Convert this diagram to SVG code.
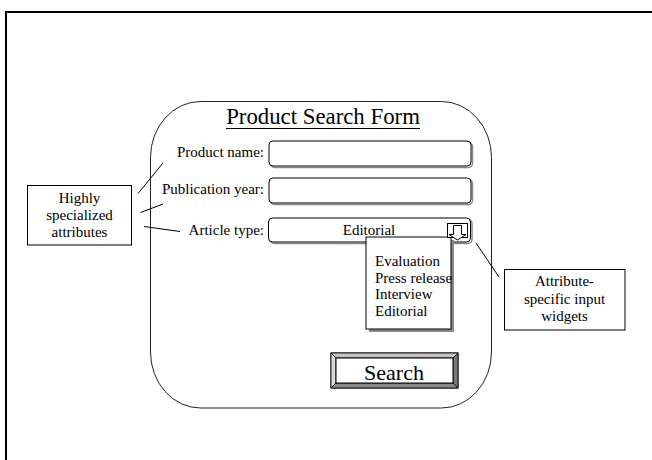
<svg xmlns="http://www.w3.org/2000/svg" width="652" height="460" viewBox="0 0 652 460">
  <defs>
    <style>
      .t { font-family: "Liberation Serif", "Times New Roman", serif; fill: #000; }
      .lbl { font-size: 15px; text-anchor: end; }
      .note { font-size: 15px; text-anchor: middle; }
      .item { font-size: 15px; }
      .box { fill: #fff; stroke: #000; stroke-width: 1; }
      .field { fill: #fff; stroke: #000; stroke-width: 1; }
      .fshadow { fill: none; stroke: #888; stroke-width: 1.5; }
      .conn { stroke: #000; stroke-width: 1; fill: none; }
    </style>
  </defs>
  <rect width="652" height="460" fill="#fff"/>

  <!-- page frame, open to the right and bottom -->
  <path d="M6,470 L6,12 L660,12" fill="none" stroke="#000" stroke-width="2"/>

  <!-- form panel -->
  <g id="form">
    <rect x="150.5" y="101.5" width="341" height="306.5" rx="50" ry="56" fill="#fff" stroke="#222" stroke-width="1"/>
    <text class="t" x="323" y="124" font-size="22.8" text-anchor="middle">Product Search Form</text>
    <line x1="226" y1="128.5" x2="420" y2="128.5" stroke="#000" stroke-width="1"/>
  </g>

  <!-- product name field -->
  <g id="field-name">
    <text class="t lbl" x="264" y="157">Product name:</text>
    <rect class="fshadow" x="270.5" y="142.5" width="202" height="25" rx="4"/>
    <rect class="field" x="269" y="141" width="202" height="25" rx="4"/>
  </g>

  <!-- publication year field -->
  <g id="field-year">
    <text class="t lbl" x="264" y="194">Publication year:</text>
    <rect class="fshadow" x="270.5" y="179.5" width="202" height="25" rx="4"/>
    <rect class="field" x="269" y="178" width="202" height="25" rx="4"/>
  </g>

  <!-- article type dropdown -->
  <g id="field-type">
    <text class="t lbl" x="264" y="235">Article type:</text>
    <rect class="fshadow" x="270" y="219.5" width="202" height="24" rx="4"/>
    <rect class="field" x="268.5" y="218" width="202" height="24" rx="4"/>
    <text class="t" x="369" y="235" font-size="15" text-anchor="middle">Editorial</text>
  </g>

  <!-- open option list -->
  <g id="option-list">
    <rect x="369" y="240" width="85" height="92" fill="#888"/>
    <rect class="box" x="366" y="237" width="85" height="92"/>
    <text class="t item" x="375" y="266">Evaluation</text>
    <text class="t item" x="375" y="282.5">Press release</text>
    <text class="t item" x="375" y="299">Interview</text>
    <text class="t item" x="375" y="315.5">Editorial</text>
  </g>

  <!-- dropdown arrow button -->
  <g id="dropdown-button">
    <rect x="447.5" y="223.5" width="20" height="14" fill="#fff" stroke="#000" stroke-width="1"/>
    <path d="M453.5,225.5 L461.5,225.5 L461.5,234.5 L466,234.5 L457.5,240 L449,234.5 L453.5,234.5 Z" fill="#fff" stroke="#000" stroke-width="1"/>
  </g>

  <!-- search button -->
  <g id="search-button">
    <rect x="331" y="353" width="127" height="35" fill="#fff" stroke="#000" stroke-width="1"/>
    <polygon points="331,353 458,353 453,358 336,358" fill="#c4c4c4" stroke="#000" stroke-width="0.8"/>
    <polygon points="331,353 336,358 336,383 331,388" fill="#d8d8d8" stroke="#000" stroke-width="0.8"/>
    <polygon points="458,353 458,388 453,383 453,358" fill="#7a7a7a" stroke="#000" stroke-width="0.8"/>
    <polygon points="331,388 458,388 453,383 336,383" fill="#8a8a8a" stroke="#000" stroke-width="0.8"/>
    <rect x="336" y="358" width="117" height="25" fill="#fff" stroke="#000" stroke-width="1"/>
    <text class="t" x="394" y="380" font-size="22" text-anchor="middle">Search</text>
  </g>

  <!-- annotation: specialized attributes -->
  <g id="note-attributes">
    <rect class="box" x="27.5" y="185.5" width="104" height="59.5"/>
    <text class="t note" x="79.5" y="203">Highly</text>
    <text class="t note" x="79.5" y="220">specialized</text>
    <text class="t note" x="79.5" y="237">attributes</text>
  </g>

  <!-- annotation: input widgets -->
  <g id="note-widgets">
    <rect class="box" x="504.5" y="269.5" width="120.5" height="60.5"/>
    <text class="t note" x="564.5" y="286">Attribute-</text>
    <text class="t note" x="564.5" y="303.5">specific input</text>
    <text class="t note" x="564.5" y="321">widgets</text>
  </g>

  <!-- pointer lines -->
  <g id="connectors">
    <line class="conn" x1="138" y1="193.5" x2="163" y2="163"/>
    <line class="conn" x1="140.5" y1="212.5" x2="163" y2="204"/>
    <line class="conn" x1="144" y1="226.5" x2="180" y2="231.5"/>
    <line class="conn" x1="476" y1="243" x2="499" y2="277"/>
  </g>
</svg>
